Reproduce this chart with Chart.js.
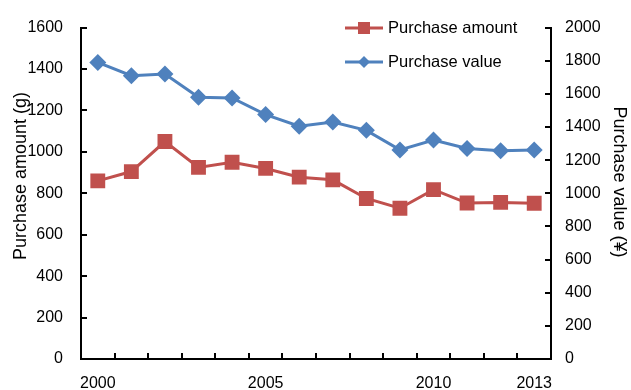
<!DOCTYPE html>
<html>
<head>
<meta charset="utf-8">
<script src="https://cdn.jsdelivr.net/npm/chart.js@4.4.1/dist/chart.umd.min.js"></script>
<style>
  html, body { margin: 0; padding: 0; background: #fff; }
  #wrap { width: 631px; height: 390px; }
</style>
</head>
<body>
<div id="wrap"><canvas id="c" width="631" height="390"></canvas></div>
<script>
// Yearly purchases, 2000–2013
const years = ['2000','2001','2002','2003','2004','2005','2006','2007','2008','2009','2010','2011','2012','2013'];
const yearLabelsShown = ['2000','2005','2010','2013'];
const purchaseAmount = [860, 905, 1050, 925, 950, 920, 878, 865, 775, 728, 818, 753, 756, 752];
const purchaseValue = [1790, 1710, 1720, 1580, 1575, 1475, 1405, 1430, 1380, 1262, 1322, 1270, 1257, 1262];
const amountTicks = [0, 200, 400, 600, 800, 1000, 1200, 1400, 1600];
const valueTicks = [0, 200, 400, 600, 800, 1000, 1200, 1400, 1600, 1800, 2000];
const amountTitle = 'Purchase amount (g)';
const valueTitle = 'Purchase value (¥)';

const RED = '#C0504D';
const BLUE = '#4F81BD';
const FONT = '"Liberation Sans", Arial, sans-serif';

// Inward tick marks, rotated axis titles and the in-plot legend
const decorations = {
  id: 'decorations',
  afterDatasetsDraw(chart) {
    const ctx = chart.ctx;
    const { x, yL, yR } = chart.scales;
    ctx.save();
    ctx.strokeStyle = '#000';
    ctx.lineWidth = 2;
    ctx.beginPath();
    amountTicks.forEach(v => {
      const py = Math.round(yL.getPixelForValue(v));
      ctx.moveTo(yL.right, py); ctx.lineTo(yL.right + 6, py);
    });
    valueTicks.forEach(v => {
      const py = Math.round(yR.getPixelForValue(v));
      ctx.moveTo(yR.left, py); ctx.lineTo(yR.left - 6, py);
    });
    const step = x.getPixelForValue(1) - x.getPixelForValue(0);
    for (let i = 0; i < years.length - 1; i++) {
      const px = Math.round(x.getPixelForValue(i) + step / 2);
      ctx.moveTo(px, x.top); ctx.lineTo(px, x.top - 6);
    }
    ctx.stroke();

    // axis titles
    ctx.fillStyle = '#000';
    ctx.font = '18px ' + FONT;
    ctx.textAlign = 'center';
    ctx.textBaseline = 'middle';
    ctx.save();
    ctx.translate(21, 176);
    ctx.rotate(-Math.PI / 2);
    ctx.fillText(amountTitle, 0, 0);
    ctx.restore();
    ctx.save();
    ctx.translate(619, 182);
    ctx.rotate(Math.PI / 2);
    ctx.fillText(valueTitle, 0, 0);
    ctx.restore();

    // legend
    const items = [
      { ds: chart.data.datasets[0], y: 28 },
      { ds: chart.data.datasets[1], y: 62 }
    ];
    const lx0 = 345, lx1 = 383;
    items.forEach(it => {
      ctx.strokeStyle = it.ds.borderColor;
      ctx.lineWidth = 3;
      ctx.beginPath(); ctx.moveTo(lx0, it.y); ctx.lineTo(lx1, it.y); ctx.stroke();
      ctx.fillStyle = it.ds.backgroundColor;
      const cx = (lx0 + lx1) / 2;
      if (it.ds.pointStyle === 'rect') {
        ctx.fillRect(cx - 6, it.y - 6, 12, 12);
      } else {
        ctx.beginPath();
        ctx.moveTo(cx, it.y - 6); ctx.lineTo(cx + 6, it.y);
        ctx.lineTo(cx, it.y + 6); ctx.lineTo(cx - 6, it.y);
        ctx.closePath(); ctx.fill();
      }
      ctx.fillStyle = '#000';
      ctx.font = '16.5px ' + FONT;
      ctx.textBaseline = 'middle';
      ctx.textAlign = 'left';
      ctx.fillText(it.ds.label, 388, it.y);
    });
    ctx.restore();
  }
};

const plainNumber = v => String(v);

new Chart(document.getElementById('c'), {
  type: 'line',
  data: {
    labels: years,
    datasets: [
      {
        label: 'Purchase amount',
        data: purchaseAmount,
        yAxisID: 'yL',
        borderColor: RED,
        backgroundColor: RED,
        borderWidth: 3,
        pointStyle: 'rect',
        pointRadius: 10.5,
        pointBorderWidth: 0,
        tension: 0
      },
      {
        label: 'Purchase value',
        data: purchaseValue,
        yAxisID: 'yR',
        borderColor: BLUE,
        backgroundColor: BLUE,
        borderWidth: 3,
        pointStyle: 'rectRot',
        pointRadius: 8.5,
        pointBorderWidth: 0,
        tension: 0
      }
    ]
  },
  options: {
    responsive: false,
    animation: false,
    events: [],
    layout: { padding: { top: 21, right: 0, bottom: 0, left: 0 } },
    plugins: { legend: { display: false }, tooltip: { enabled: false } },
    scales: {
      x: {
        type: 'category',
        offset: true,
        grid: { display: false, drawTicks: false },
        border: { display: true, color: '#000', width: 2 },
        ticks: {
          autoSkip: false,
          maxRotation: 0,
          padding: 15,
          color: '#000',
          font: { family: FONT, size: 16 },
          callback(v, i) { return yearLabelsShown.includes(years[i]) ? years[i] : ''; }
        },
        afterFit(s) { s.height = 31; }
      },
      yL: {
        type: 'linear',
        position: 'left',
        min: 0, max: 1600,
        grid: { display: false, drawTicks: false },
        border: { display: true, color: '#000', width: 2 },
        ticks: {
          stepSize: 200,
          padding: 18,
          color: '#000',
          font: { family: FONT, size: 16 },
          callback: plainNumber
        },
        afterFit(s) { s.width = 81; }
      },
      yR: {
        type: 'linear',
        position: 'right',
        min: 0, max: 2000,
        grid: { display: false, drawTicks: false },
        border: { display: true, color: '#000', width: 2 },
        ticks: {
          stepSize: 200,
          padding: 14,
          color: '#000',
          font: { family: FONT, size: 16 },
          callback: plainNumber
        },
        afterFit(s) { s.width = 80; }
      }
    }
  },
  plugins: [decorations]
});
</script>
</body>
</html>
